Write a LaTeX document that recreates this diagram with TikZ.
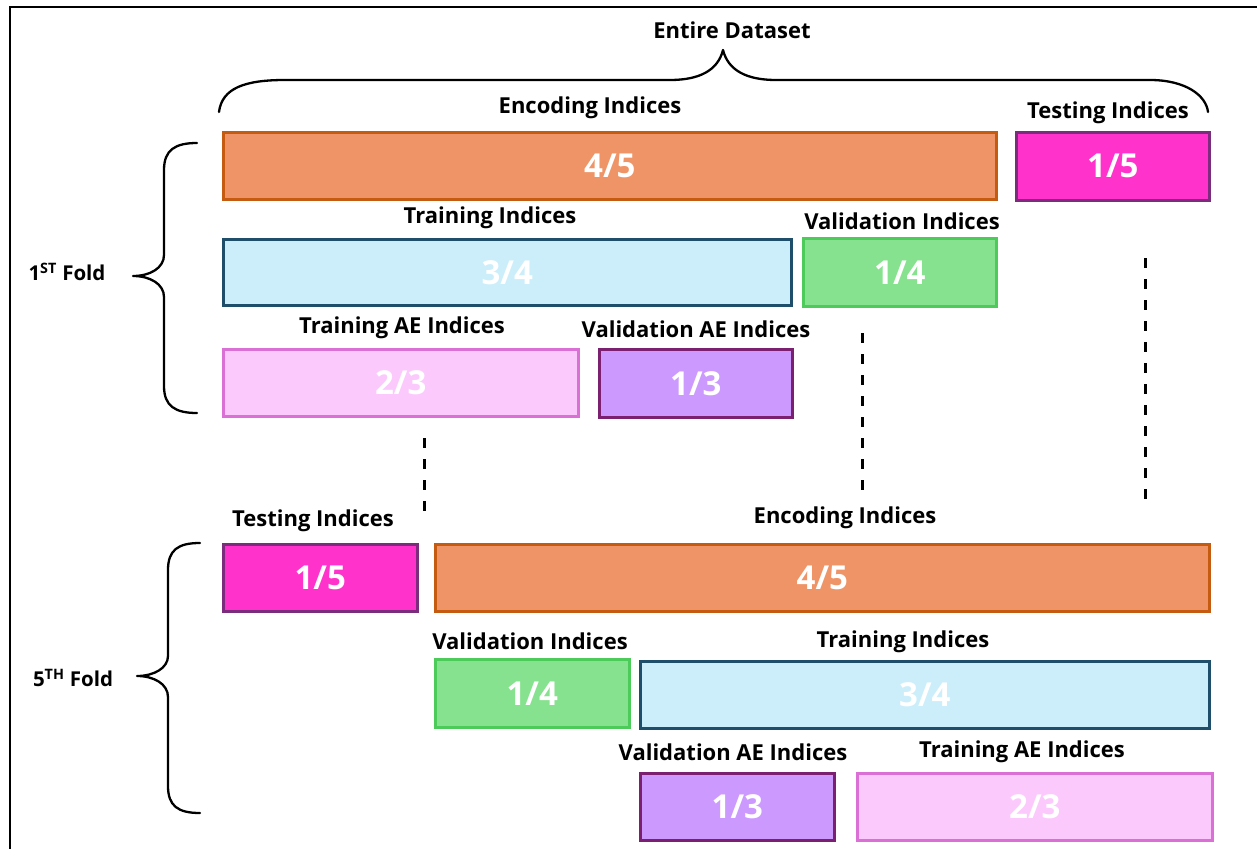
\documentclass[tikz,border=0pt]{standalone}
\usepackage{fontspec}
\setmainfont{Open Sans}
\begin{document}
\begin{tikzpicture}[x=1pt,y=-1pt,
  bx/.style={draw, line width=2.6pt, inner sep=0pt, anchor=north west, text=white,
             font=\fontsize{33}{34}\selectfont\bfseries},
  lbl/.style={font=\fontsize{22}{23}\selectfont\bfseries, inner sep=0pt, text=black},
  flbl/.style={font=\fontsize{20.5}{22}\selectfont\bfseries, inner sep=0pt, text=black},
  brace/.style={line width=2.3pt, line cap=round, line join=round},
  dline/.style={line width=3pt, dash pattern=on 10pt off 11pt},
  orng/.style={bx, fill=orfill, draw=ordraw},
  mgnt/.style={bx, fill=mgfill, draw=mgdraw},
  lblue/.style={bx, fill=lbfill, draw=lbdraw},
  grn/.style={bx, fill=grfill, draw=grdraw},
  lpink/.style={bx, fill=lpfill, draw=lpdraw},
  lav/.style={bx, fill=lvfill, draw=lvdraw}]
\definecolor{orfill}{HTML}{EE9466}\definecolor{ordraw}{HTML}{C55A11}
\definecolor{mgfill}{HTML}{FF33CC}\definecolor{mgdraw}{HTML}{7B2C7C}
\definecolor{lbfill}{HTML}{CCEEFB}\definecolor{lbdraw}{HTML}{1F4E6B}
\definecolor{grfill}{HTML}{86E28E}\definecolor{grdraw}{HTML}{4CCB5A}
\definecolor{lpfill}{HTML}{FCC9FD}\definecolor{lpdraw}{HTML}{DA70D6}
\definecolor{lvfill}{HTML}{CC99FF}\definecolor{lvdraw}{HTML}{7B2070}
\useasboundingbox (0,0) rectangle (1257,848);
\begin{scope}
\clip (0,0) rectangle (1257,848);
\draw[line width=2pt] (10,7) rectangle (1270,860);
\end{scope}

% ---------- Fold 1 ----------
\node[orng, minimum width=773pt, minimum height=67pt] (enc1) at (222,131) {4/5};
\node[mgnt, minimum width=193pt, minimum height=68pt] (tst1) at (1015,131) {1/5};
\node[lblue, minimum width=568pt, minimum height=66pt] (trn1) at (222,238) {3/4};
\node[grn, minimum width=193pt, minimum height=68pt] (val1) at (802,237) {1/4};
\node[lpink, minimum width=355pt, minimum height=67pt] (tae1) at (222,348) {2/3};
\node[lav, minimum width=193pt, minimum height=68pt] (vae1) at (598,348) {1/3};

\node[lbl] (lenc1) at (590,108) {Encoding Indices};
\node[lbl] (ltst1) at (1108,113) {Testing Indices};
\node[lbl] (ltrn1) at (490,218) {Training Indices};
\node[lbl] (lval1) at (902,221) {Validation Indices};
\node[lbl] (ltae1) at (402,328) {Training AE Indices};
\node[lbl] (lvae1) at (696,329) {Validation AE Indices};

% ---------- Fold 5 ----------
\node[mgnt, minimum width=194pt, minimum height=67pt] (tst5) at (222,543) {1/5};
\node[orng, minimum width=774pt, minimum height=67pt] (enc5) at (434,543) {4/5};
\node[grn, minimum width=194pt, minimum height=68pt] (val5) at (434,658) {1/4};
\node[lblue, minimum width=569pt, minimum height=67pt] (trn5) at (639,660) {3/4};
\node[lav, minimum width=194pt, minimum height=67pt] (vae5) at (639,772) {1/3};
\node[lpink, minimum width=355pt, minimum height=67pt] (tae5) at (856,772) {2/3};

\node[lbl] (ltst5) at (313,521) {Testing Indices};
\node[lbl] (lenc5) at (845,518) {Encoding Indices};
\node[lbl] (lval5) at (530,641) {Validation Indices};
\node[lbl] (ltrn5) at (903,642) {Training Indices};
\node[lbl] (lvae5) at (733,752) {Validation AE Indices};
\node[lbl] (ltae5) at (1022,752) {Training AE Indices};

% ---------- Top brace ----------
\node[lbl] (all) at (732,30) {Entire Dataset};
\draw[brace] (219,112) .. controls (222,88) and (245,80) .. (285,80)
  -- (670,80) .. controls (700,80) and (718,70) .. (723,50)
  .. controls (728,70) and (746,80) .. (776,80)
  -- (1150,80) .. controls (1185,80) and (1206,95) .. (1208,112);

% ---------- Fold braces ----------
\node[flbl] (f1) at (67,272) {1\textsuperscript{ST} Fold};
\draw[brace] (197,143) .. controls (175,143) and (164,150) .. (164,170)
  -- (164,255) .. controls (164,268) and (150,276) .. (133,276)
  .. controls (150,276) and (164,284) .. (164,297)
  -- (164,386) .. controls (164,406) and (175,413) .. (197,413);

\node[flbl] (f5) at (73,678) {5\textsuperscript{TH} Fold};
\draw[brace] (200,543) .. controls (178,543) and (168,550) .. (168,570)
  -- (168,656) .. controls (168,668) and (154,676) .. (137,676)
  .. controls (154,676) and (168,684) .. (168,697)
  -- (168,786) .. controls (168,806) and (178,813) .. (200,813);

% ---------- Dashed lines ----------
\coordinate (d1a) at (424,438); \coordinate (d1b) at (424,512);
\coordinate (d2a) at (862,333); \coordinate (d2b) at (862,500);
\coordinate (d3a) at (1145,258); \coordinate (d3b) at (1145,506);
\draw[dline] (d1a) -- (d1b);
\draw[dline] (d2a) -- (d2b);
\draw[dline] (d3a) -- (d3b);
\end{tikzpicture}
\end{document}
